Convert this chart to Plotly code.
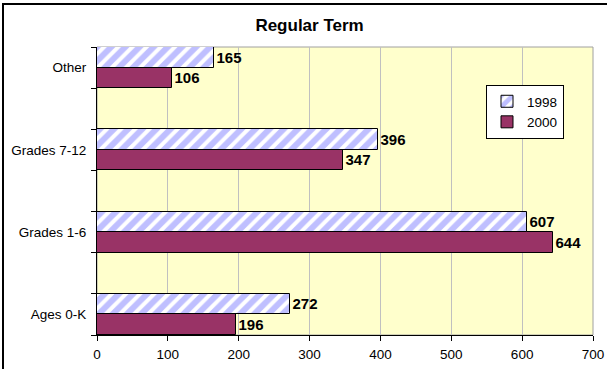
import plotly.graph_objects as go

categories = ["Ages 0-K", "Grades 1-6", "Grades 7-12", "Other"]
values_1998 = [272, 607, 396, 165]
values_2000 = [196, 644, 347, 106]
x_ticks = [0, 100, 200, 300, 400, 500, 600, 700]

# Excel layout: blank categories between the real ones
blanks = [" ", "  ", "   "]
cat_order = []
for i, c in enumerate(categories):
    cat_order.append(c)
    if i < len(blanks):
        cat_order.append(blanks[i])

FONT = "Liberation Sans, Arial, sans-serif"
W, H = 607, 369
ML, MR, MT, MB = 97, 14, 47, 34
PW, PH = W - ML - MR, H - MT - MB

fig = go.Figure()
fig.add_trace(go.Bar(
    name="2000", y=categories, x=values_2000, orientation="h",
    marker=dict(color="#993366", line=dict(color="black", width=1)),
    text=[str(v) for v in values_2000], textposition="outside",
    textfont=dict(family=FONT, size=15, color="black", weight="bold"),
    cliponaxis=False,
))
fig.add_trace(go.Bar(
    name="1998", y=categories, x=values_1998, orientation="h",
    marker=dict(color="white", line=dict(color="black", width=1),
                pattern=dict(shape="/", fgcolor="#8080FF", bgcolor="white",
                             size=10, solidity=0.6, fillmode="overlay")),
    text=[str(v) for v in values_1998], textposition="outside",
    textfont=dict(family=FONT, size=15, color="black", weight="bold"),
    cliponaxis=False,
))

def px(xp):
    return (xp - ML) / PW

def py(yp):
    return (H - MB - yp) / PH

fig.update_layout(
    width=W, height=H,
    margin=dict(l=ML, r=MR, t=MT, b=MB, autoexpand=False),
    paper_bgcolor="white", plot_bgcolor="#FFFFCC",
    barmode="group", bargap=0, bargroupgap=0,
    font=dict(family=FONT, size=13.5, color="black"),
    title=dict(text="<b>Regular Term</b>", x=0.51, xanchor="center",
               y=1 - 25 / H, yanchor="middle",
               font=dict(family=FONT, size=17, color="black")),
    xaxis=dict(range=[0, 700], tickvals=x_ticks, showgrid=True,
               gridcolor="#C0C0C0", gridwidth=1, zeroline=False,
               showline=True, linecolor="black", linewidth=1,
               ticks="outside", ticklen=5, tickcolor="black",
               tickfont=dict(size=13.5), automargin=False,
               ticklabelstandoff=2),
    yaxis=dict(type="category", categoryorder="array", categoryarray=cat_order,
               range=[-0.5, len(cat_order) - 0.5], tickson="boundaries",
               ticks="outside", ticklen=5, tickcolor="black",
               showline=True, linecolor="black", linewidth=1,
               showgrid=False, zeroline=False, tickfont=dict(size=13.5),
               automargin=False, ticklabelstandoff=7),
    legend=dict(x=px(486), y=py(85), xanchor="left", yanchor="top",
                bgcolor="white", bordercolor="black", borderwidth=1,
                traceorder="reversed", font=dict(size=13.5),
                tracegroupgap=0, itemwidth=30),
    showlegend=True,
    shapes=[
        dict(type="rect", xref="paper", yref="paper", x0=0, x1=1, y0=0, y1=1,
             line=dict(color="#A0A0A0", width=1), layer="below"),
        dict(type="rect", xref="paper", yref="paper",
             x0=px(3), x1=px(612), y0=py(4), y1=py(375),
             line=dict(color="black", width=2)),
    ],
)

fig.write_html("out.html", config={"displayModeBar": False},
               post_script="document.body.style.margin='0';document.body.style.overflow='hidden';")
